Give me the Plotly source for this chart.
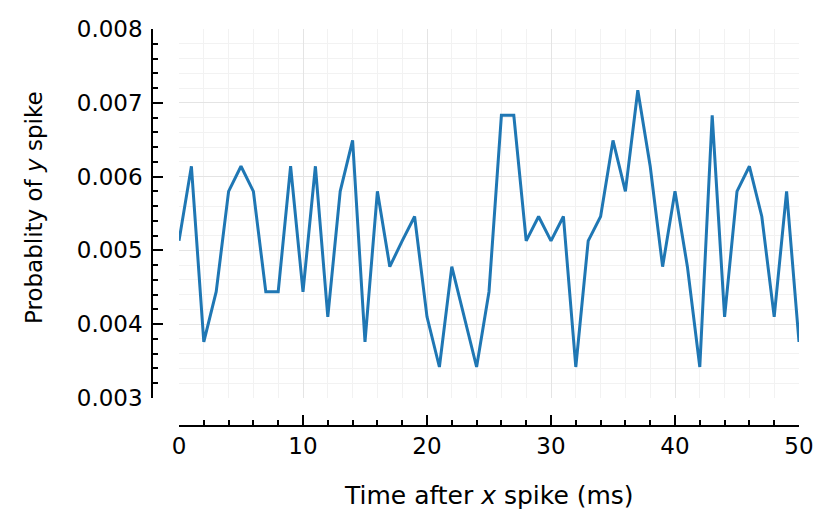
import plotly.graph_objects as go

time_ms = list(range(51))
prob_y_spike = [
    0.00513, 0.00614, 0.00376, 0.00444, 0.00580, 0.00614, 0.00580, 0.00444, 0.00444, 0.00614,
    0.00444, 0.00614, 0.00410, 0.00580, 0.00649, 0.00376, 0.00580, 0.00478, 0.00513, 0.00546,
    0.00410, 0.00342, 0.00478, 0.00410, 0.00342, 0.00444, 0.00683, 0.00683, 0.00513, 0.00546,
    0.00513, 0.00546, 0.00342, 0.00513, 0.00546, 0.00649, 0.00580, 0.00717, 0.00614, 0.00478,
    0.00580, 0.00478, 0.00342, 0.00683, 0.00410, 0.00580, 0.00614, 0.00546, 0.00410, 0.00580,
    0.00376,
]
x_title = "Time after <i>x</i> spike (ms)"
y_title = "Probablity of <i>y</i> spike"

W, H = 835, 530
OFF = 8  # page body margin
FONT = "DejaVu Sans"


def px(x):
    return (x - OFF) / W


def py(y):
    return 1 - (y - OFF) / H


fig = go.Figure()
fig.add_trace(go.Scatter(x=time_ms, y=prob_y_spike, mode="lines",
                         line=dict(color="#1f77b4", width=3), showlegend=False))

axis_common = dict(
    showline=True, linecolor="black", linewidth=1.5,
    ticks="inside", ticklen=10, tickwidth=1.5, tickcolor="black",
    showgrid=True, gridcolor="#e4e4e4", gridwidth=1,
    zeroline=False, automargin=False,
    tickfont=dict(family=FONT, size=23, color="black"),
)

fig.update_layout(
    width=W, height=H,
    margin=dict(l=0, r=0, t=0, b=0),
    paper_bgcolor="white", plot_bgcolor="white",
    xaxis=dict(
        **axis_common,
        domain=[px(179), px(799)],
        anchor="free", position=py(426),
        range=[0, 50], dtick=10, tick0=0,
        minor=dict(dtick=2, ticklen=5, tickwidth=1.5, tickcolor="black", ticks="inside",
                   showgrid=True, gridcolor="#f2f2f2", gridwidth=1),
    ),
    yaxis=dict(
        **axis_common,
        domain=[py(398), py(29)],
        anchor="free", position=px(152),
        range=[0.003, 0.008], dtick=0.001, tick0=0.003, tickformat=".3f",
        ticklabelstandoff=4,
        minor=dict(dtick=0.0002, ticklen=5, tickwidth=1.5, tickcolor="black", ticks="inside",
                   showgrid=True, gridcolor="#f2f2f2", gridwidth=1),
    ),
    annotations=[
        dict(text=x_title, xref="paper", yref="paper", x=px(489), y=py(495),
             showarrow=False, xanchor="center", yanchor="middle",
             font=dict(family=FONT, size=25, color="black")),
        dict(text=y_title, xref="paper", yref="paper", x=px(34), y=py(208),
             showarrow=False, xanchor="center", yanchor="middle", textangle=-90,
             font=dict(family=FONT, size=23, color="black")),
    ],
)

fig.write_html("out.html")
